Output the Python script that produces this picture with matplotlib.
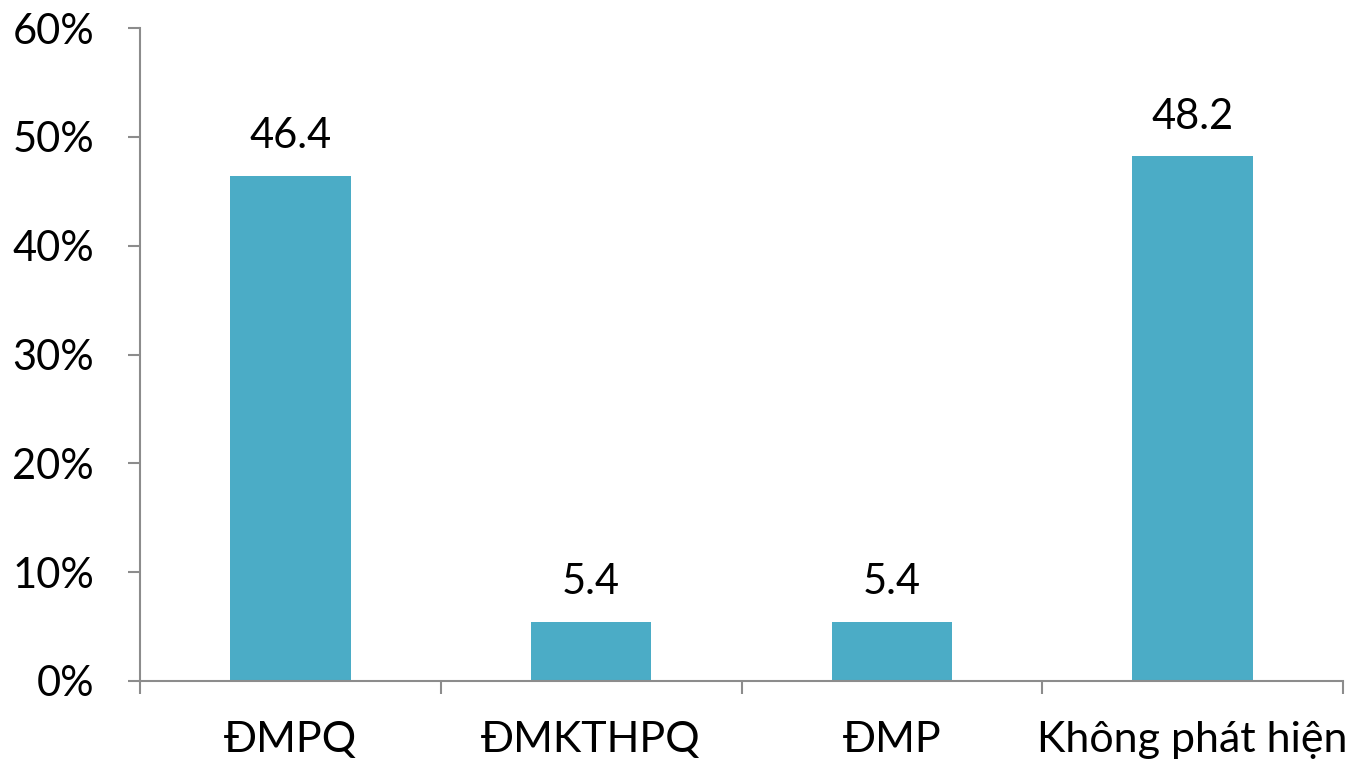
import numpy as np
from matplotlib import pyplot
from matplotlib.ticker import FuncFormatter

categories = ['ĐMPQ', 'ĐMKTHPQ', 'ĐMP', 'Không phát hiện']
percentages = [46.4, 5.4, 5.4, 48.2]
y_ticks = [0, 10, 20, 30, 40, 50, 60]

pyplot.rcParams['font.family'] = ['Lato', 'DejaVu Sans']

bar_color = '#4BACC6'
axis_color = '#8C8C8C'

figure = pyplot.figure(figsize=(13.6, 7.69), dpi=100)
axes = figure.add_axes([140 / 1360, 88 / 769, 1203 / 1360, 653 / 769])

x = np.arange(len(categories))
bars = axes.bar(x, percentages, width=0.4, color=bar_color)

for rect, value in zip(bars, percentages):
    axes.annotate('{:.1f}'.format(value), (rect.get_x() + rect.get_width() / 2, value),
                  xytext=(0, 15), textcoords='offset points',
                  ha='center', va='bottom', fontsize=30)

axes.set_xlim(-0.5, len(categories) - 0.5)
axes.set_ylim(0, 60)
axes.set_yticks(y_ticks)
axes.yaxis.set_major_formatter(FuncFormatter(lambda v, _: '{:.0f}%'.format(v)))

# category labels in the middle, tick marks on the boundaries
axes.set_xticks(x)
axes.set_xticklabels(categories)
axes.set_xticks(np.arange(-0.5, len(categories)), minor=True)
axes.tick_params(axis='x', which='major', length=0, pad=29, labelsize=31)
axes.tick_params(axis='x', which='minor', length=9, width=1.5, color=axis_color)
axes.tick_params(axis='y', length=9, width=1.5, color=axis_color, pad=24, labelsize=30)

for side in ('top', 'right'):
    axes.spines[side].set_visible(False)
for side in ('left', 'bottom'):
    axes.spines[side].set_color(axis_color)
    axes.spines[side].set_linewidth(1.5)

pyplot.savefig('out.png', dpi=100)
